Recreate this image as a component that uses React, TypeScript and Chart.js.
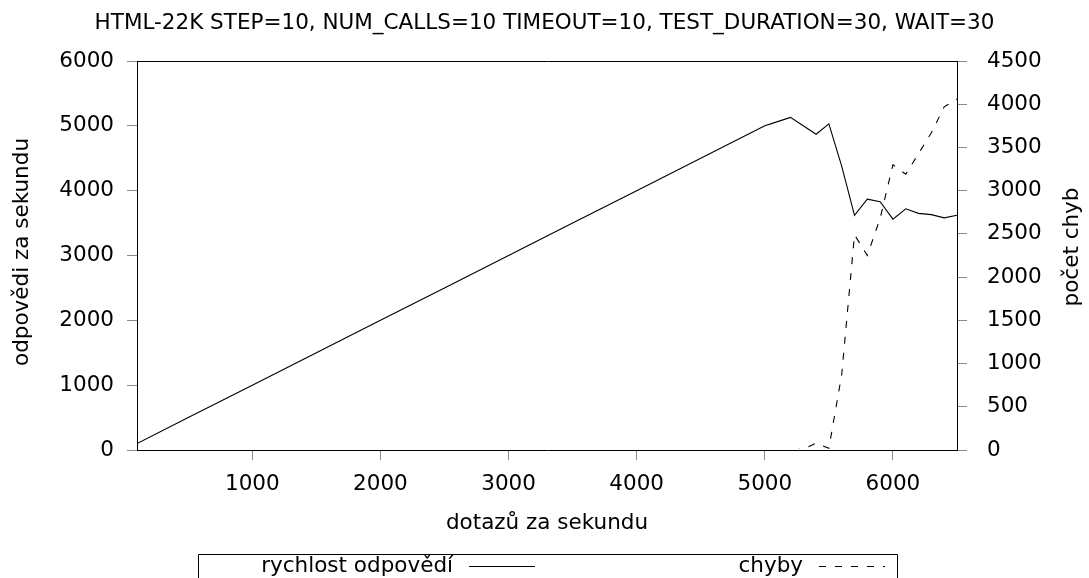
import { useEffect, useRef } from "react";
import { Chart, registerables } from "chart.js";

Chart.register(...registerables);

const FONT_FAMILY = "'DejaVu Sans', 'Liberation Sans', sans-serif";
const FONT_SIZE = 21.5;

const chartTitle = "HTML-22K STEP=10, NUM_CALLS=10 TIMEOUT=10, TEST_DURATION=30, WAIT=30";
const xAxisTitle = "dotazů za sekundu";
const yAxisTitle = "odpovědi za sekundu";
const y2AxisTitle = "počet chyb";
const seriesLabels = ["rychlost odpovědí", "chyby"];

// dotazů za sekundu (requests per second)
const requestRates = [
  100, 500, 1000, 1500, 2000, 2500, 3000, 3500, 4000, 4500,
  5000, 5100, 5200, 5300, 5400, 5500, 5600, 5700, 5800, 5900,
  6000, 6100, 6200, 6300, 6400, 6500,
];
// odpovědi za sekundu (responses per second)
const responseRates = [
  100, 500, 1000, 1500, 2000, 2500, 3000, 3500, 4000, 4500,
  5000, 5065, 5130, 5000, 4870, 5030, 4380, 3620, 3870, 3830,
  3560, 3720, 3650, 3630, 3580, 3620,
];
// počet chyb (error count)
const errorCounts = [
  0, 0, 0, 0, 0, 0, 0, 0, 0, 0,
  0, 0, 0, 10, 80, 20, 870, 2490, 2250, 2680,
  3300, 3190, 3430, 3670, 3970, 4060,
];

const xTicks = [1000, 2000, 3000, 4000, 5000, 6000];
const yMax = 6000;
const yStep = 1000;
const y2Max = 4500;
const y2Step = 500;

const decorPlugin = {
  id: "gnuplotDecor",
  afterDraw(chart: any) {
    const { ctx, chartArea: ca } = chart;
    ctx.save();
    // top border of the plot box
    ctx.strokeStyle = "#000";
    ctx.lineWidth = 1;
    ctx.beginPath();
    ctx.moveTo(ca.left, Math.round(ca.top) + 0.5);
    ctx.lineTo(ca.right + 1, Math.round(ca.top) + 0.5);
    ctx.stroke();

    ctx.fillStyle = "#000";
    ctx.font = `${FONT_SIZE}px ${FONT_FAMILY}`;
    ctx.textAlign = "center";
    ctx.textBaseline = "middle";

    // left axis title (rotated)
    ctx.save();
    ctx.translate(22, 252);
    ctx.rotate(-Math.PI / 2);
    ctx.fillText(yAxisTitle, 0, 0);
    ctx.restore();

    // right axis title (rotated, bottom-to-top like gnuplot)
    ctx.save();
    ctx.translate(1072, 247);
    ctx.rotate(-Math.PI / 2);
    ctx.fillText(y2AxisTitle, 0, 0);
    ctx.restore();

    // legend box (gnuplot style: text, then line sample)
    const boxLeft = 198.5;
    const boxRight = 897.5;
    const boxTop = 554.5;
    ctx.beginPath();
    ctx.moveTo(boxLeft, 600);
    ctx.lineTo(boxLeft, boxTop);
    ctx.lineTo(boxRight, boxTop);
    ctx.lineTo(boxRight, 600);
    ctx.stroke();

    const colWidth = 350;
    const datasets = chart.data.datasets;
    datasets.forEach((ds: any, i: number) => {
      const colStart = 198 + i * colWidth;
      ctx.textAlign = "right";
      ctx.textBaseline = "alphabetic";
      ctx.fillText(ds.label, colStart + 255, 572);
      ctx.beginPath();
      ctx.setLineDash(ds.borderDash || []);
      ctx.lineWidth = 1;
      ctx.moveTo(colStart + 271, 566.5);
      ctx.lineTo(colStart + 337, 566.5);
      ctx.stroke();
      ctx.setLineDash([]);
    });
    ctx.restore();
  },
};

export default function App() {
  const canvasRef = useRef<HTMLCanvasElement | null>(null);

  useEffect(() => {
    if (!canvasRef.current) return;
    Chart.defaults.font.family = FONT_FAMILY;
    const font = { family: FONT_FAMILY, size: FONT_SIZE, weight: "normal" as const, lineHeight: 1.2 };

    const chart = new Chart(canvasRef.current, {
      type: "line",
      data: {
        datasets: [
          {
            label: seriesLabels[0],
            data: requestRates.map((x, i) => ({ x, y: responseRates[i] })),
            borderColor: "#000",
            backgroundColor: "#000",
            borderWidth: 1.1,
            pointRadius: 0,
            tension: 0,
            yAxisID: "y",
          },
          {
            label: seriesLabels[1],
            data: requestRates.map((x, i) => ({ x, y: errorCounts[i] })),
            borderColor: "#000",
            backgroundColor: "#000",
            borderWidth: 1.1,
            borderDash: [7, 9],
            pointRadius: 0,
            tension: 0,
            yAxisID: "y2",
            clip: { left: 0, top: 5, right: 5, bottom: -1 } as any,
          },
        ],
      },
      options: {
        animation: false,
        responsive: false,
        maintainAspectRatio: false,
        layout: { padding: 0 },
        plugins: {
          legend: { display: false },
          tooltip: { enabled: false },
          title: {
            display: true,
            text: chartTitle,
            color: "#000",
            font,
            padding: { top: 10.7, bottom: 24.5 },
          },
        },
        scales: {
          x: {
            type: "linear",
            min: 100,
            max: 6500,
            afterBuildTicks: (s: any) => {
              s.ticks = xTicks.map((v) => ({ value: v }));
            },
            afterFit: (s: any) => {
              s.height = 128;
            },
            grid: { drawOnChartArea: false, tickLength: 10, tickColor: "#8a8a8a", color: "#8a8a8a" },
            border: { color: "#000", width: 1 },
            ticks: {
              color: "#000",
              font,
              padding: 12,
              maxRotation: 0,
              autoSkip: false,
              callback: (v: any) => String(v),
            },
            title: {
              display: true,
              text: xAxisTitle,
              color: "#000",
              font,
              padding: { top: 0, bottom: 42 },
            },
          },
          y: {
            type: "linear",
            position: "left",
            min: 0,
            max: yMax,
            afterFit: (s: any) => {
              s.width = 137;
            },
            grid: { drawOnChartArea: false, tickLength: 10, tickColor: "#8a8a8a", color: "#8a8a8a" },
            border: { color: "#000", width: 1 },
            ticks: {
              stepSize: yStep,
              color: "#000",
              font,
              padding: 13,
              callback: (v: any) => String(v),
            },
          },
          y2: {
            type: "linear",
            position: "right",
            min: 0,
            max: y2Max,
            afterFit: (s: any) => {
              s.width = 132;
            },
            grid: { drawOnChartArea: false, tickLength: 10, tickColor: "#8a8a8a", color: "#8a8a8a" },
            border: { color: "#000", width: 1 },
            ticks: {
              stepSize: y2Step,
              color: "#000",
              font,
              padding: 20,
              callback: (v: any) => String(v),
            },
          },
        },
      },
      plugins: [decorPlugin],
    });
    return () => chart.destroy();
  }, []);

  return (
    <div style={{ position: "absolute", left: 0, top: 0, width: 1089, height: 578, background: "#fff" }}>
      <canvas ref={canvasRef} width={1089} height={578} style={{ width: 1089, height: 578, display: "block" }} />
    </div>
  );
}
